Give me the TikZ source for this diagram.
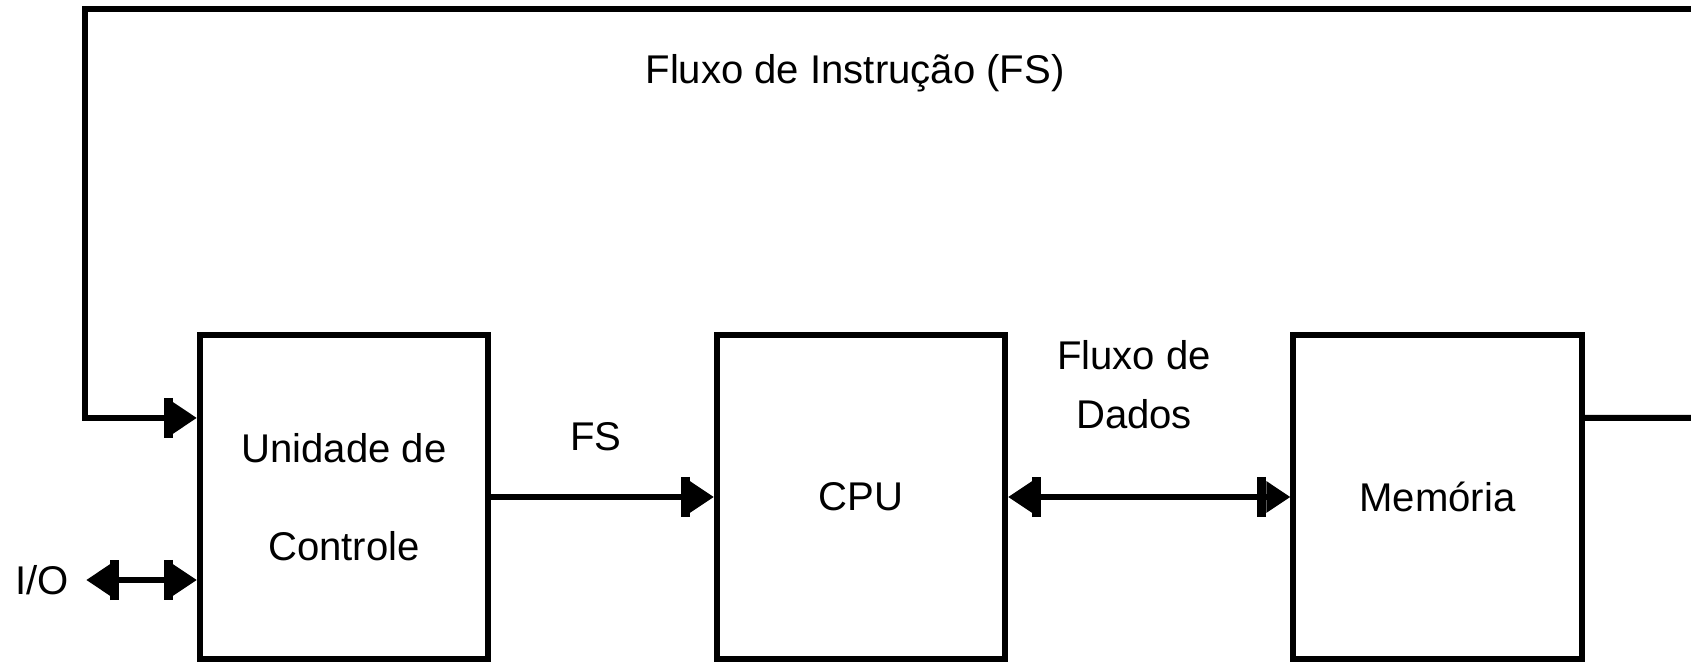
\documentclass[tikz,border=0pt]{standalone}
\usepackage{fontspec}
\setmainfont{Liberation Sans}
\usetikzlibrary{arrows.meta}

\begin{document}
\begin{tikzpicture}[x=0.01cm,y=0.01cm,
  every node/.style={font=\fontsize{11.4}{13.7}\selectfont},
  bloco/.style={draw,line width=0.06cm,minimum width=2.88cm,minimum height=3.24cm,
    align=center,font=\fontsize{11.4}{28}\selectfont},
  fio/.style={line width=0.06cm},
  seta/.style={-{Bar[width=0.4cm,line width=0.09cm,sep=0pt]Triangle[length=0.24cm,width=0.3cm]}},
  seta2/.style={{Triangle[length=0.24cm,width=0.3cm]Bar[width=0.4cm,line width=0.09cm,sep=0pt]}-{Bar[width=0.4cm,line width=0.09cm,sep=0pt]Triangle[length=0.24cm,width=0.3cm]}}]
  \useasboundingbox (0,0) rectangle (1691,664);
  \node[bloco] (uc) at (344,167) {Unidade de\\Controle};
  \node[bloco] (cpu) at (861,167) {CPU};
  \node[bloco] (mem) at (1437.5,167) {Memória};
  \node (titulo) at (855,591) {Fluxo de Instrução (FS)};
  \node (fs) at (596,227) {FS};
  \node[align=center,font=\fontsize{11.4}{16.8}\selectfont] (dados) at (1134,279) {Fluxo de\\Dados};
  \node (io) at (42,84) {I/O};
  \coordinate (topoD) at (1691,655);
  \coordinate (topoE) at (85,655);
  \coordinate (memSai) at (1691,246);
  \coordinate (ucEnt) at ([yshift=0.79cm]uc.west);
  \draw[fio,seta] (topoD) -- (topoE) |- (ucEnt);
  \draw[fio] ([yshift=0.79cm]mem.east) -- (memSai);
  \draw[fio,seta] (uc.east) -- (cpu.west);
  \draw[fio,seta2] (cpu.east) -- (mem.west);
  \draw[fio,seta2] ([xshift=0.05cm]io.east) -- (io.east -| uc.west);
\end{tikzpicture}
\end{document}
